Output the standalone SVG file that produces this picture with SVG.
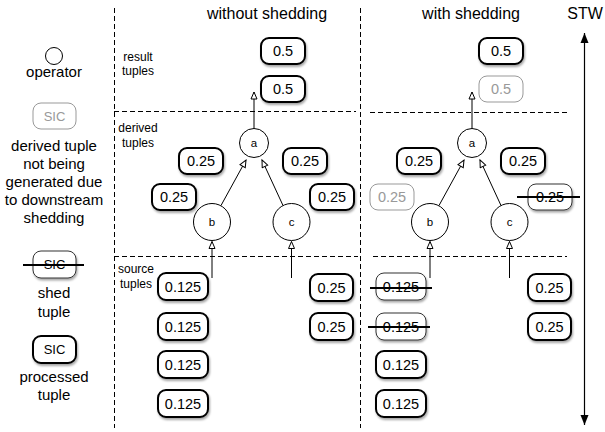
<svg xmlns="http://www.w3.org/2000/svg" width="605" height="432" viewBox="0 0 605 432">
<style>
text{font-family:"Liberation Sans",Arial,sans-serif;fill:#000}
.t{font-size:14.5px;text-anchor:middle}
.leg{font-size:15px;text-anchor:middle}
.sec{font-size:12px;text-anchor:middle}
.title{font-size:16px;text-anchor:middle}
.op{font-size:11.5px;text-anchor:middle}
.gt{fill:#999}
.pb{fill:#fff;stroke:#000;stroke-width:2;filter:url(#sh)}
.gb{fill:#fff;stroke:#999;stroke-width:1}
.sb{fill:#fff;stroke:#333;stroke-width:1;filter:url(#sh)}
.strike{stroke:#000;stroke-width:2}
.circ{fill:#fff;stroke:#000;stroke-width:1}
.dash{stroke:#000;stroke-width:1;stroke-dasharray:5,3;fill:none}
.edge{stroke:#000;stroke-width:1;fill:none;marker-end:url(#ha)}
</style>
<defs>
<filter id="sh" x="-20%" y="-20%" width="150%" height="160%">
<feDropShadow dx="1" dy="2" stdDeviation="1.2" flood-color="#000" flood-opacity="0.35"/>
</filter>
<marker id="ha" markerUnits="userSpaceOnUse" markerWidth="10" markerHeight="10" refX="8" refY="4" orient="auto">
<path d="M1,1 L8,4 L1,7 z" fill="#fff" stroke="#000" stroke-width="1"/>
</marker>
<marker id="fa" markerUnits="userSpaceOnUse" markerWidth="12" markerHeight="12" refX="10" refY="5" orient="auto">
<path d="M0,1 L10,5 L0,9 z" fill="#000"/>
</marker>
</defs>

<g id="frame">
<line class="dash" x1="114.5" y1="8" x2="114.5" y2="428"/>
<line class="dash" x1="360.5" y1="8" x2="360.5" y2="428"/>
<line class="dash" x1="114" y1="111.5" x2="356" y2="111.5"/>
<line class="dash" x1="114" y1="256.5" x2="358" y2="256.5"/>
<line class="dash" x1="370" y1="112.5" x2="570" y2="112.5"/>
<line class="dash" x1="373" y1="256.5" x2="567" y2="256.5"/>
</g>

<g id="titles">
<text class="title" x="267" y="19">without shedding</text>
<text class="title" x="471" y="19">with shedding</text>
<text class="title" x="585" y="19">STW</text>
<text class="sec" x="138" y="61">result</text>
<text class="sec" x="138" y="75">tuples</text>
<text class="sec" x="138" y="132">derived</text>
<text class="sec" x="138" y="147">tuples</text>
<text class="sec" x="136" y="273">source</text>
<text class="sec" x="136" y="288">tuples</text>
</g>

<g id="legend">
<circle class="circ" cx="54" cy="56" r="8.5"/>
<text class="leg" x="54" y="77">operator</text>
<rect class="gb" x="33" y="103" width="43" height="26" rx="8"/>
<text class="t gt" x="54.5" y="121" style="font-size:13px">SIC</text>
<text class="leg" x="54" y="151">derived tuple</text>
<text class="leg" x="54" y="169">not being</text>
<text class="leg" x="54" y="187">generated due</text>
<text class="leg" x="54" y="205">to downstream</text>
<text class="leg" x="54" y="223">shedding</text>
<rect class="sb" x="33" y="251" width="43" height="27" rx="8"/>
<text class="t" x="54.5" y="269" style="font-size:13px">SIC</text>
<line class="strike" x1="23" y1="265" x2="84" y2="265"/>
<text class="leg" x="54" y="298">shed</text>
<text class="leg" x="54" y="317">tuple</text>
<rect class="pb" x="33" y="336" width="43" height="27" rx="8"/>
<text class="t" x="54.5" y="354" style="font-size:13px">SIC</text>
<text class="leg" x="54" y="382">processed</text>
<text class="leg" x="54" y="400">tuple</text>
</g>

<!-- without shedding -->
<g id="L-a"><circle class="circ" cx="254" cy="143" r="14.5"/><text class="op" x="254" y="147">a</text></g>
<g id="L-b"><circle class="circ" cx="212" cy="222" r="18.5"/><text class="op" x="212" y="226">b</text></g>
<g id="L-c"><circle class="circ" cx="291.5" cy="222" r="18.5"/><text class="op" x="291.5" y="226">c</text></g>

<g id="L-r1"><rect class="pb" x="261" y="38" width="44" height="26" rx="8"/><text class="t" x="283" y="56">0.5</text></g>
<g id="L-r2"><rect class="pb" x="261" y="76" width="44" height="26" rx="8"/><text class="t" x="283" y="94">0.5</text></g>
<g id="L-d1"><rect class="pb" x="179" y="148" width="44" height="26" rx="8"/><text class="t" x="201" y="166">0.25</text></g>
<g id="L-d2"><rect class="pb" x="152" y="184" width="44" height="26" rx="8"/><text class="t" x="174" y="202">0.25</text></g>
<g id="L-d3"><rect class="pb" x="283" y="148" width="44" height="26" rx="8"/><text class="t" x="305" y="166">0.25</text></g>
<g id="L-d4"><rect class="pb" x="310" y="184" width="44" height="26" rx="8"/><text class="t" x="332" y="202">0.25</text></g>
<g id="L-s1"><rect class="pb" x="158" y="273" width="50" height="27" rx="8"/><text class="t" x="183" y="291.5">0.125</text></g>
<g id="L-s2"><rect class="pb" x="158" y="313" width="50" height="27" rx="8"/><text class="t" x="183" y="331.5">0.125</text></g>
<g id="L-s3"><rect class="pb" x="158" y="351" width="50" height="27" rx="8"/><text class="t" x="183" y="369.5">0.125</text></g>
<g id="L-s4"><rect class="pb" x="158" y="390" width="50" height="27" rx="8"/><text class="t" x="183" y="408.5">0.125</text></g>
<g id="L-s5"><rect class="pb" x="310" y="274" width="43" height="27" rx="8"/><text class="t" x="331.5" y="292.5">0.25</text></g>
<g id="L-s6"><rect class="pb" x="310" y="313" width="43" height="27" rx="8"/><text class="t" x="331.5" y="331.5">0.25</text></g>

<!-- with shedding -->
<g id="R-a"><circle class="circ" cx="472" cy="143" r="14.5"/><text class="op" x="472" y="147">a</text></g>
<g id="R-b"><circle class="circ" cx="430" cy="222" r="18.5"/><text class="op" x="430" y="226">b</text></g>
<g id="R-c"><circle class="circ" cx="509.5" cy="222" r="18.5"/><text class="op" x="509.5" y="226">c</text></g>

<g id="R-r1"><rect class="pb" x="479" y="38" width="44" height="26" rx="8"/><text class="t" x="501" y="56">0.5</text></g>
<g id="R-r2"><rect class="gb" x="479" y="76" width="44" height="26" rx="8"/><text class="t gt" x="501" y="94">0.5</text></g>
<g id="R-d1"><rect class="pb" x="397" y="148" width="44" height="26" rx="8"/><text class="t" x="419" y="166">0.25</text></g>
<g id="R-d2"><rect class="gb" x="370" y="184" width="44" height="26" rx="8"/><text class="t gt" x="392" y="202">0.25</text></g>
<g id="R-d3"><rect class="pb" x="501" y="148" width="44" height="26" rx="8"/><text class="t" x="523" y="166">0.25</text></g>
<g id="R-d4"><rect class="sb" x="528" y="184" width="44" height="26" rx="8"/><text class="t" x="550" y="202">0.25</text><line class="strike" x1="517" y1="197" x2="580" y2="197"/></g>
<g id="R-s1"><rect class="sb" x="376" y="273" width="50" height="27" rx="8"/><text class="t" x="401" y="291.5">0.125</text><line class="strike" x1="370" y1="288" x2="432" y2="288"/></g>
<g id="R-s2"><rect class="sb" x="376" y="313" width="50" height="27" rx="8"/><text class="t" x="401" y="331.5">0.125</text><line class="strike" x1="368" y1="327" x2="430" y2="327"/></g>
<g id="R-s3"><rect class="pb" x="376" y="351" width="50" height="27" rx="8"/><text class="t" x="401" y="369.5">0.125</text></g>
<g id="R-s4"><rect class="pb" x="376" y="390" width="50" height="27" rx="8"/><text class="t" x="401" y="408.5">0.125</text></g>
<g id="R-s5"><rect class="pb" x="528" y="274" width="43" height="27" rx="8"/><text class="t" x="549.5" y="292.5">0.25</text></g>
<g id="R-s6"><rect class="pb" x="528" y="313" width="43" height="27" rx="8"/><text class="t" x="549.5" y="331.5">0.25</text></g>

<g id="connectors">
<line class="edge" x1="254" y1="128.5" x2="254" y2="92"/>
<line class="edge" x1="221" y1="205.5" x2="246" y2="160"/>
<line class="edge" x1="283" y1="205.5" x2="262" y2="160"/>
<line class="edge" x1="212" y1="278" x2="212" y2="241.5"/>
<line class="edge" x1="291.5" y1="278" x2="291.5" y2="241.5"/>
<line class="edge" x1="472" y1="128.5" x2="472" y2="92"/>
<line class="edge" x1="439" y1="205.5" x2="464" y2="160"/>
<line class="edge" x1="501" y1="205.5" x2="480" y2="160"/>
<line class="edge" x1="430" y1="278" x2="430" y2="241.5"/>
<line class="edge" x1="509.5" y1="278" x2="509.5" y2="241.5"/>
<line x1="584.5" y1="229" x2="584.5" y2="33" stroke="#000" stroke-width="1.2" marker-end="url(#fa)"/>
<line x1="584.5" y1="229" x2="584.5" y2="425" stroke="#000" stroke-width="1.2" marker-end="url(#fa)"/>
</g>
</svg>
